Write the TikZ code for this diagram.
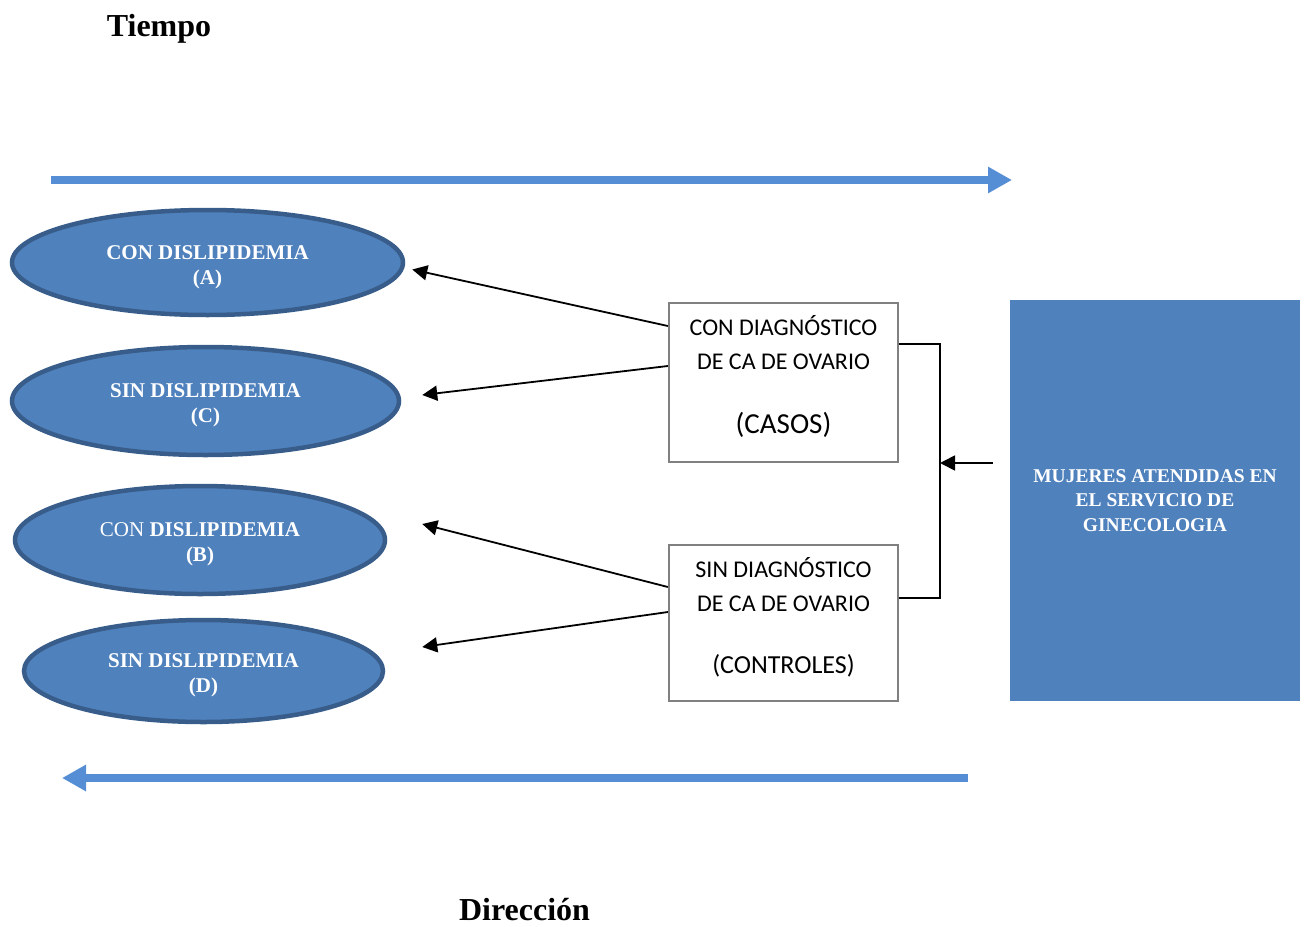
\documentclass[tikz,border=0pt]{standalone}
\usepackage{fontspec}
\setmainfont{Liberation Serif}
\newfontfamily\calfont{Carlito}
\usetikzlibrary{shapes.geometric,arrows.meta,calc}
\definecolor{ellfill}{RGB}{79,129,189}
\definecolor{ellline}{RGB}{56,93,138}
\definecolor{timeblue}{RGB}{85,142,213}
\definecolor{boxline}{RGB}{128,128,128}
\newcommand{\topstrut}{\rule{0pt}{23pt}}
\newcommand{\botstrut}{\rule[-16pt]{0pt}{16pt}}
\tikzset{
  oval/.style={ellipse, draw=ellline, fill=ellfill, line width=4.5pt, inner sep=0pt,
    text=white, align=center, font=\fontsize{21}{25}\selectfont\bfseries},
  groupbox/.style={rectangle, draw=boxline, fill=white, line width=2.3pt, inner sep=0pt,
    minimum width=229pt, align=center, font=\calfont\fontsize{24}{34}\selectfont},
  bigbox/.style={rectangle, fill=ellfill, inner sep=0pt, minimum width=290pt, minimum height=401pt,
    text=white, align=center, font=\fontsize{19.5}{24.5}\selectfont\bfseries},
  conn/.style={line width=1.8pt, -{Triangle[length=15pt,width=15pt]}},
  timearrow/.style={line width=8pt, draw=timeblue, -{Triangle[length=24pt,width=25pt]}},
  title/.style={anchor=base, inner sep=0pt, font=\fontsize{32}{36}\selectfont\bfseries}
}
\begin{document}
\begin{tikzpicture}[x=1pt,y=-1pt]
\path[use as bounding box] (0,0) rectangle (1308,926);

\node[title] (tiempo) at (159,36) {Tiempo};
\node[title] (direccion) at (524.5,920) {Dirección};

\coordinate (t1) at (51,180);
\coordinate (t2) at (1012,180);
\draw[timearrow] (t1) -- (t2);
\coordinate (d1) at (968,778);
\coordinate (d2) at (62,778);
\draw[timearrow] (d1) -- (d2);

\node[oval, minimum width=391pt, minimum height=105pt] (A) at (207.5,262.5) {\topstrut CON DISLIPIDEMIA\\(A)};
\node[oval, minimum width=387pt, minimum height=108pt] (C) at (205.5,401) {\topstrut SIN DISLIPIDEMIA\\(C)};
\node[oval, minimum width=370pt, minimum height=108pt] (B) at (200,540) {\topstrut{\mdseries CON} DISLIPIDEMIA\\(B)};
\node[oval, minimum width=359pt, minimum height=102pt] (D) at (203.5,671) {\topstrut SIN DISLIPIDEMIA\\(D)};

\node[groupbox, minimum height=159pt] (casos) at (783.5,382.5)
  {CON DIAGNÓSTICO\\DE CA DE OVARIO\\[30pt]{\fontsize{29}{34}\selectfont (CASOS)\botstrut}};
\node[groupbox, minimum height=156pt] (controles) at (783.5,623)
  {SIN DIAGNÓSTICO\\DE CA DE OVARIO\\[28pt]{\fontsize{26}{34}\selectfont (CONTROLES)\botstrut}};

\node[bigbox] (mujeres) at (1155,500.5) {MUJERES ATENDIDAS EN\\EL SERVICIO DE\\GINECOLOGIA};

\draw[conn] ($(casos.west)+(0,-56.5)$) -- ($(A.east)+(7,7)$);
\draw[conn] ($(casos.west)+(0,-16.5)$) -- ($(C.east)+(21,-6)$);
\draw[conn] ($(controles.west)+(0,-36)$) -- ($(B.east)+(35,-16)$);
\draw[conn] ($(controles.west)+(0,-11)$) -- ($(D.east)+(37,-24)$);

\coordinate (bt) at ($(casos.east)+(41,-38.5)$);
\coordinate (bb) at ($(controles.east)+(41,-25)$);
\draw[line width=1.8pt] ($(casos.east)+(0,-38.5)$) -- (bt) -- (bb) -- ($(controles.east)+(0,-25)$);
\coordinate (join) at (940,463);
\coordinate (feed) at ($(mujeres.west)+(-17,-37.5)$);
\draw[conn] (feed) -- (join);
\end{tikzpicture}
\end{document}
